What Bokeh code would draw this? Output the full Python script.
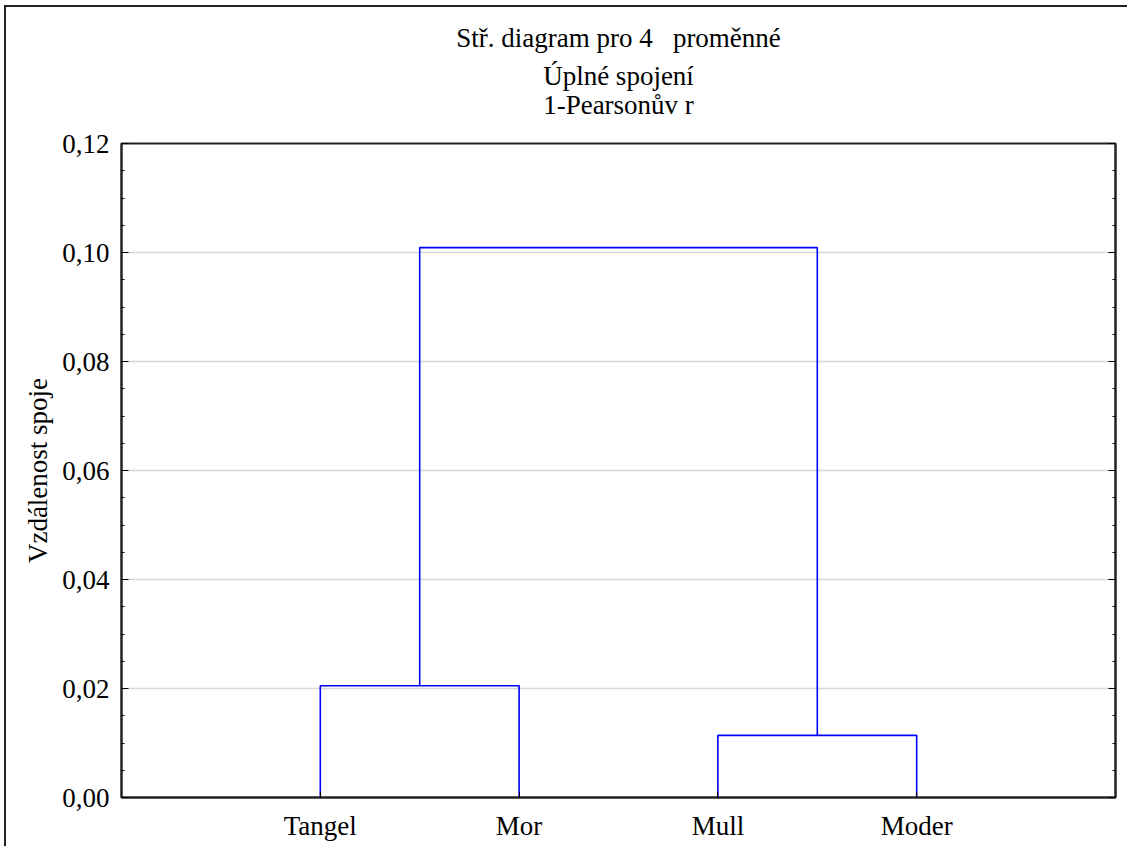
from bokeh.plotting import figure
from bokeh.models import (FixedTicker, CustomJSTickFormatter, LinearAxis, Title,
                          ColumnDataSource, Range1d)
from bokeh.embed import file_html
from bokeh.resources import INLINE

# --- data -----------------------------------------------------------------
leaves = ["Tangel", "Mor", "Mull", "Moder"]
# merges: (left member, right member, linkage distance); members >= len(leaves) are earlier clusters
merge_left = [0, 2, 4]
merge_right = [1, 3, 5]
merge_height = [0.0205, 0.0114, 0.1009]

title_lines = ["Stř. diagram pro 4\u00a0\u00a0\u00a0proměnné", "Úplné spojení", "1-Pearsonův r"]
y_label = "Vzdálenost spoje"
y_major = [0.0, 0.02, 0.04, 0.06, 0.08, 0.10, 0.12]
y_minor = [i * 0.005 for i in range(25)]

FONT = "Liberation Serif"
FS = "27px"

# --- dendrogram geometry from the merge list -------------------------------
node_x = {i: float(i + 1) for i in range(len(leaves))}
node_h = {i: 0.0 for i in range(len(leaves))}
xs, ys = [], []
for k, (a, b, h) in enumerate(zip(merge_left, merge_right, merge_height)):
    xa, xb = node_x[a], node_x[b]
    xs.append([xa, xa, xb, xb])
    ys.append([node_h[a], h, h, node_h[b]])
    nid = len(leaves) + k
    node_x[nid] = (xa + xb) / 2
    node_h[nid] = h
src = ColumnDataSource(dict(xs=xs, ys=ys))

# --- figure ----------------------------------------------------------------
p = figure(width=1123, height=841, output_backend="svg", toolbar_location=None,
           x_range=Range1d(0, 5), y_range=Range1d(0, 0.12),
           min_border_left=115, min_border_right=14, min_border_top=136, min_border_bottom=51,
           background_fill_color="white", border_fill_color="white",
           outline_line_color="#222222", outline_line_width=2,
           styles={"border-left": "2px solid #222", "border-top": "2px solid #222",
                   "margin-left": "4px", "margin-top": "5px"})
p.title = None

p.multi_line("xs", "ys", source=src, line_color="#0000ff", line_width=1.6)

fmt = CustomJSTickFormatter(code="return tick.toFixed(2).replace('.', ',');")

ya = p.yaxis[0]
ya.ticker = FixedTicker(ticks=y_major, minor_ticks=y_minor)
ya.formatter = fmt
ya.major_tick_in = 7
ya.major_tick_out = 0
ya.minor_tick_in = 3
ya.minor_tick_out = 0
ya.axis_line_color = "#222222"
ya.axis_line_width = 2
ya.major_label_text_font = FONT
ya.major_label_text_font_size = FS
ya.major_label_text_color = "black"
ya.major_label_standoff = 12

# right-hand frame edge carries the same ticks, without labels
ra = LinearAxis(ticker=FixedTicker(ticks=y_major, minor_ticks=y_minor),
                formatter=CustomJSTickFormatter(code="return '';"),
                major_tick_in=7, major_tick_out=0, minor_tick_in=3, minor_tick_out=0,
                major_label_standoff=0, axis_line_color="#222222", axis_line_width=2)
p.add_layout(ra, "right")

xa = p.xaxis[0]
xa.ticker = FixedTicker(ticks=[1, 2, 3, 4], minor_ticks=[])
xa.major_label_overrides = {i + 1: name for i, name in enumerate(leaves)}
xa.major_tick_in = 6
xa.major_tick_out = 0
xa.minor_tick_in = 0
xa.minor_tick_out = 0
xa.axis_line_color = "#222222"
xa.axis_line_width = 2
xa.major_label_text_font = FONT
xa.major_label_text_font_size = FS
xa.major_label_text_color = "black"
xa.major_label_standoff = 13

p.xgrid.visible = False
p.ygrid.ticker = FixedTicker(ticks=y_major[1:-1])
p.ygrid.grid_line_color = "#d8d8d8"
p.ygrid.grid_line_width = 1.5

# vertical axis caption
p.add_layout(Title(text=y_label, align="center", standoff=13,
                   text_font=FONT, text_font_size=FS, text_font_style="normal",
                   text_color="black"), "left")

# tick-less top axis whose caption is the last heading line
ta = LinearAxis(ticker=FixedTicker(ticks=[], minor_ticks=[]),
                major_tick_in=0, major_tick_out=0, minor_tick_in=0, minor_tick_out=0,
                axis_line_color=None, axis_label=title_lines[2],
                axis_label_standoff=24, axis_label_text_font=FONT,
                axis_label_text_font_size=FS, axis_label_text_font_style="normal",
                axis_label_text_color="black")
p.add_layout(ta, "above")

# the two upper heading lines (nearest line first)
for line, gap in zip([title_lines[1], title_lines[0]], [-9, 22]):
    p.add_layout(Title(text=line, align="center", standoff=gap,
                       text_font=FONT, text_font_size=FS, text_font_style="normal",
                       text_color="black"), "above")

open("out.html", "w").write(file_html(p, INLINE))
